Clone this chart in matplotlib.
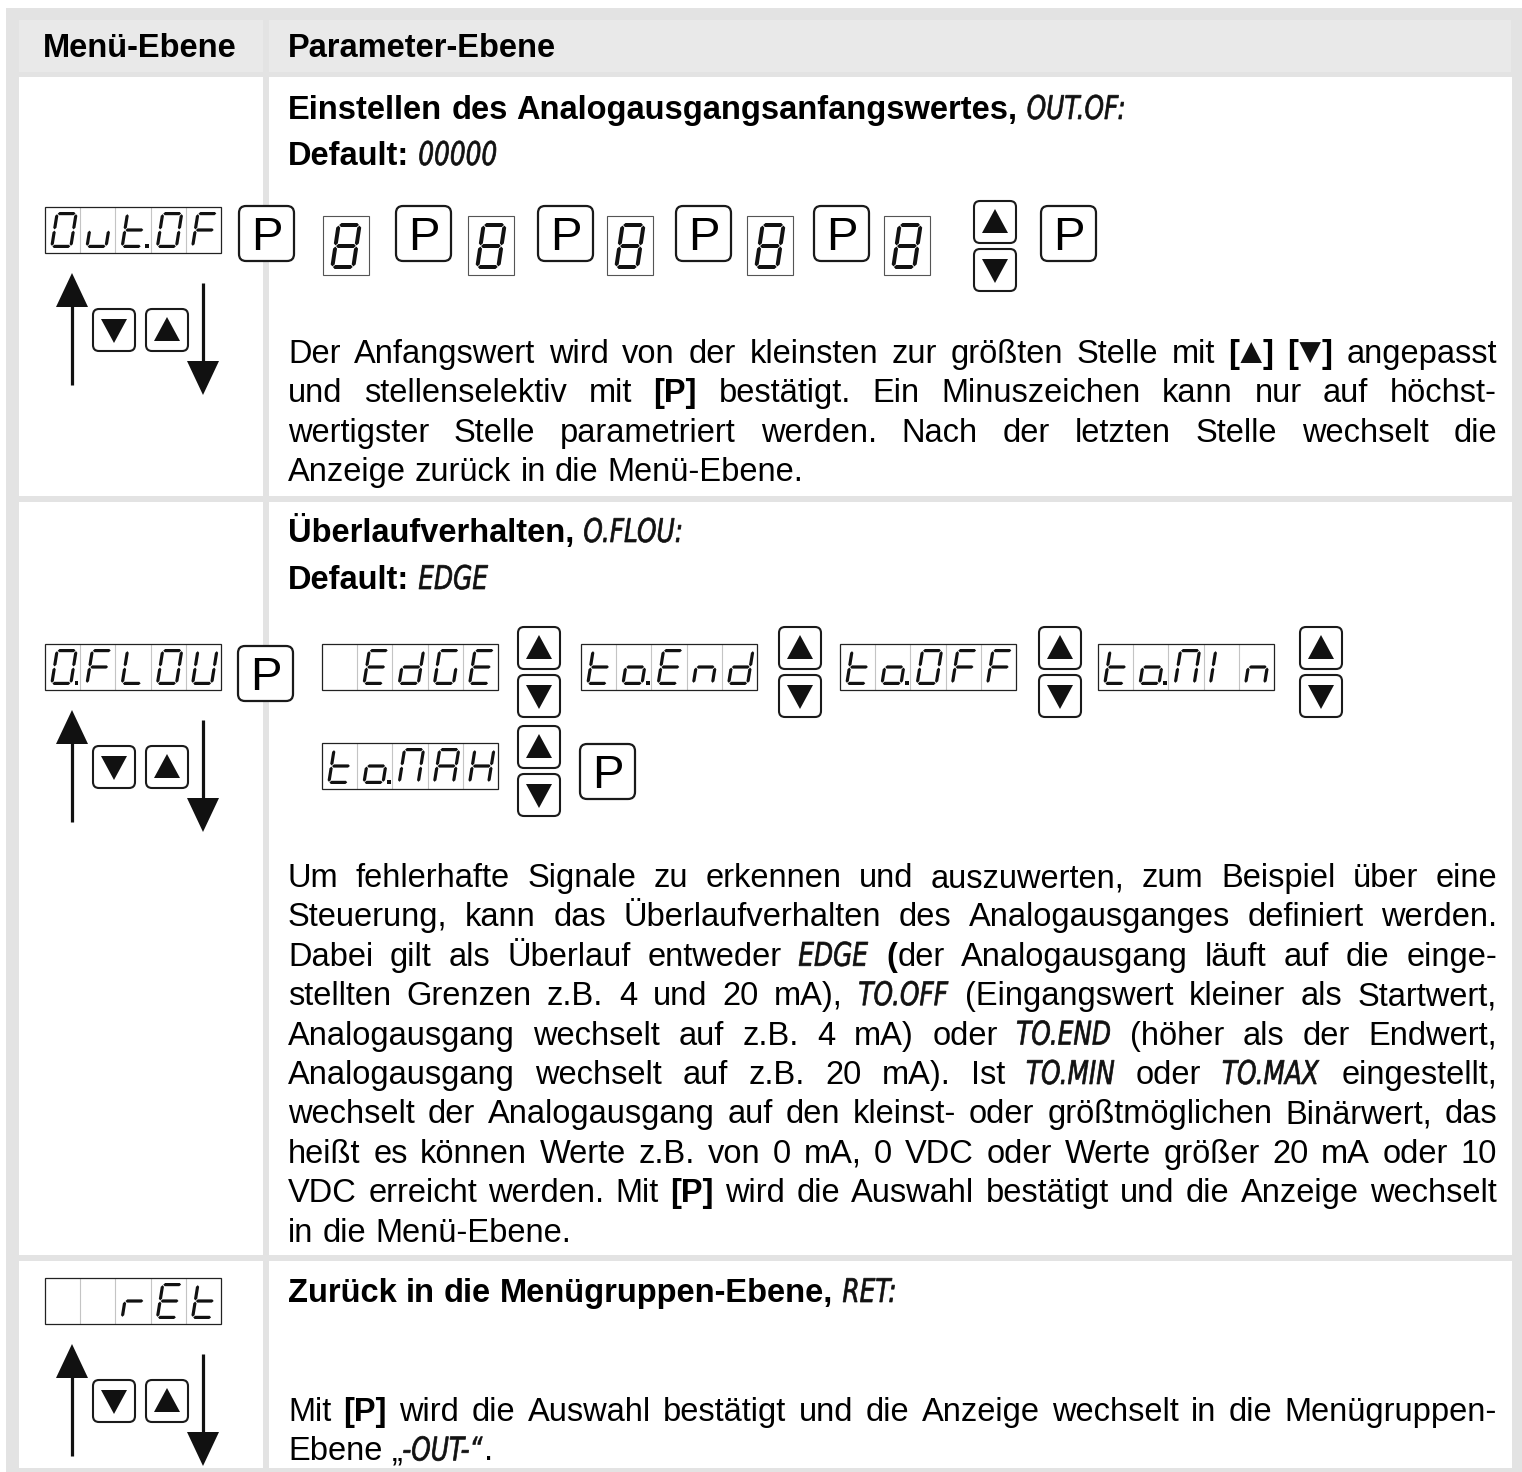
import matplotlib
matplotlib.use('Agg')
import matplotlib.pyplot as plt
from matplotlib.patches import Rectangle, FancyBboxPatch, Polygon, PathPatch
from matplotlib.textpath import TextPath
from matplotlib.font_manager import FontProperties
from matplotlib.transforms import Affine2D

# ---- content ----
HEADER = ["Menü-Ebene", "Parameter-Ebene"]

TITLE1 = "*Einstellen des Analogausgangsanfangswertes,* _OUT.OF:_"
DEFAULT1 = "*Default:* _00000_"
PAR1 = [
    "Der Anfangswert wird von der kleinsten zur größten Stelle mit *[▲]* *[▼]* angepasst",
    "und stellenselektiv mit *[P]* bestätigt. Ein Minuszeichen kann nur auf höchst-",
    "wertigster Stelle parametriert werden. Nach der letzten Stelle wechselt die",
    "Anzeige zurück in die Menü-Ebene.",
]

TITLE2 = "*Überlaufverhalten,* _O.FLOU:_"
DEFAULT2 = "*Default:* _EDGE_"
PAR2 = [
    "Um fehlerhafte Signale zu erkennen und auszuwerten, zum Beispiel über eine",
    "Steuerung, kann das Überlaufverhalten des Analogausganges definiert werden.",
    "Dabei gilt als Überlauf entweder _EDGE_ *(*der Analogausgang läuft auf die einge-",
    "stellten Grenzen z.B. 4 und 20 mA), _TO.OFF_ (Eingangswert kleiner als Startwert,",
    "Analogausgang wechselt auf z.B. 4 mA) oder _TO.END_ (höher als der Endwert,",
    "Analogausgang wechselt auf z.B. 20 mA). Ist _TO.MIN_ oder _TO.MAX_ eingestellt,",
    "wechselt der Analogausgang auf den kleinst- oder größtmöglichen Binärwert, das",
    "heißt es können Werte z.B. von 0 mA, 0 VDC oder Werte größer 20 mA oder 10",
    "VDC erreicht werden. Mit *[P]* wird die Auswahl bestätigt und die Anzeige wechselt",
    "in die Menü-Ebene.",
]

TITLE3 = "*Zurück in die Menügruppen-Ebene,* _RET:_"
PAR3 = [
    "Mit *[P]* wird die Auswahl bestätigt und die Anzeige wechselt in die Menügruppen-",
    "Ebene „_-OUT-“_.",
]

MENU_DISPLAYS = ["Out.OF", "O.FLOU", "  rEt"]
DIGIT_STEPS = ["8", "8", "8", "8", "8"]
OFLOW_CHOICES = [" EdGE", "to.End", "to.OFF", "to.MIn", "to.MAH"]

# ---- layout (pixels) ----
W, H = 1522, 1472
FS = 23.5
EM = FS * 100 / 72
X0, X1 = 288, 1497
LINE = 39.4
ROW_TOPS = [207, 644, 1278]          # menu display tops
DIGIT_X = [323, 468, 607, 747, 884]
P1_X = [239, 396, 538, 676, 814, 1041]
CHOICE_XY = [(322, 644), (581, 644), (840, 644), (1098, 644), (322, 743)]
UD2_XY = [(518, 627), (779, 627), (1039, 627), (1300, 627), (518, 726)]

SANS = ['Liberation Sans', 'DejaVu Sans']
FONTS = {
    'n': dict(family=SANS, fontsize=FS),
    'b': dict(family=SANS, fontsize=FS, fontweight='bold'),
}
SEG_PROP = FontProperties(family='DejaVu Sans', style='oblique')
SEG_SX = 0.76
SPACE = EM * 0.278
INK = '#111111'

fig = plt.figure(figsize=(W / 100, H / 100), dpi=100)
ax = fig.add_axes([0, 0, 1, 1])
ax.set_xlim(0, W)
ax.set_ylim(H, 0)
ax.axis('off')
renderer = fig.canvas.get_renderer()


def rect(x, y, w, h, fc, ec='none', lw=0, z=1):
    ax.add_patch(Rectangle((x, y), w, h, fc=fc, ec=ec, lw=lw, zorder=z))


# table background
rect(6, 8, W - 6, H - 8, '#e3e3e3')
rect(19, 20, 244, 52, '#e9e9e9')
rect(269, 20, 1242, 52, '#e9e9e9')
for top, bot in [(77, 496), (502, 1255), (1261, 1468)]:
    rect(19, top, 244, bot - top, 'white')
    rect(269, top, 1243, bot - top, 'white')

ax.text(43, 57, HEADER[0], va='baseline', **FONTS['b'])
ax.text(288, 57, HEADER[1], va='baseline', **FONTS['b'])


# ---- running text ----
def parse(line):
    words, cur, buf, style = [], [], '', 'n'

    def flush():
        nonlocal buf
        if not buf:
            return
        part = ''
        for ch in buf:
            if ch in '▲▼':
                if part:
                    cur.append((part, style))
                cur.append((ch, 'T'))
                part = ''
            else:
                part += ch
        if part:
            cur.append((part, style))
        buf = ''

    for ch in line:
        if ch in '*_':
            flush()
            new = 'b' if ch == '*' else 's'
            style = 'n' if style == new else new
        elif ch == ' ':
            flush()
            if cur:
                words.append(cur)
                cur = []
        else:
            buf += ch
    flush()
    if cur:
        words.append(cur)
    return words


def seg_path(txt):
    return TextPath((0, 0), txt, size=EM, prop=SEG_PROP)


def piece_width(txt, style):
    if style == 's':
        return seg_path(txt).get_extents().x1 * SEG_SX + 1.5
    if style == 'T':
        return EM * 0.72
    t = ax.text(0, 0, txt, **FONTS[style])
    w = t.get_window_extent(renderer).width
    t.remove()
    return w


def put_piece(x, y, txt, style):
    if style == 's':
        path = Affine2D().scale(SEG_SX, -1).translate(x, y).transform_path(seg_path(txt))
        ax.add_patch(PathPatch(path, fc=INK, ec=INK, lw=0.5, zorder=5))
    elif style == 'T':
        cx, half, top = x + EM * 0.36, EM * 0.33, y - EM * 0.64
        if txt == '▲':
            pts = [(cx - half, y), (cx + half, y), (cx, top)]
        else:
            pts = [(cx - half, top), (cx + half, top), (cx, y)]
        ax.add_patch(Polygon(pts, closed=True, fc=INK, ec='none', zorder=5))
    else:
        ax.text(x, y, txt, va='baseline', ha='left', zorder=5, **FONTS[style])


def draw_line(line, y, justify=False):
    words = parse(line)
    widths = [[piece_width(p, s) for p, s in w] for w in words]
    total = sum(sum(ws) for ws in widths)
    gap = (X1 - X0 - total) / (len(words) - 1) if justify and len(words) > 1 else SPACE
    x = X0
    for w, ws in zip(words, widths):
        for (p, s), pw in zip(w, ws):
            put_piece(x, y, p, s)
            x += pw
        x += gap


def draw_par(lines, y0):
    for i, line in enumerate(lines):
        draw_line(line, y0 + i * LINE, justify=(i < len(lines) - 1))


draw_line(TITLE1, 119)
draw_line(DEFAULT1, 165)
draw_par(PAR1, 363)
draw_line(TITLE2, 542)
draw_line(DEFAULT2, 589)
draw_par(PAR2, 887)
draw_line(TITLE3, 1302)
draw_par(PAR3, 1421)

# ---- seven segment displays ----
SEGS = {
    '0': 'abcdef', 'O': 'abcdef', '8': 'abcdefg', 'u': 'cde', 't': 'defg',
    'F': 'aefg', 'L': 'def', 'U': 'bcdef', 'E': 'adefg', 'd': 'bcdeg',
    'G': 'acdef', 'n': 'ceg', 'o': 'cdeg', 'r': 'eg', 'A': 'abcefg',
    'H': 'bcefg', 'M': 'abcef', 'I': 'ef', ' ': '',
}


def seg_polys(w, h, t, g):
    def hseg(yy):
        xa, xb = t / 2, w - t / 2
        return [(xa + g, yy), (xa + g + t / 2, yy + t / 2), (xb - g - t / 2, yy + t / 2),
                (xb - g, yy), (xb - g - t / 2, yy - t / 2), (xa + g + t / 2, yy - t / 2)]

    def vseg(xx, ya, yb):
        return [(xx, ya + g), (xx + t / 2, ya + g + t / 2), (xx + t / 2, yb - g - t / 2),
                (xx, yb - g), (xx - t / 2, yb - g - t / 2), (xx - t / 2, ya + g + t / 2)]

    top, mid, bot = h - t / 2, h / 2, t / 2
    return {'a': hseg(top), 'g': hseg(mid), 'd': hseg(bot),
            'f': vseg(t / 2, mid, top), 'e': vseg(t / 2, bot, mid),
            'b': vseg(w - t / 2, mid, top), 'c': vseg(w - t / 2, bot, mid)}


def draw_digit(ch, x0, ybase, w, h, t, slant=0.16, dot=False):
    polys = seg_polys(w, h, t, 0.6)
    for s in SEGS[ch]:
        pts = [(x0 + px + slant * py, ybase - py) for px, py in polys[s]]
        ax.add_patch(Polygon(pts, closed=True, fc=INK, ec='none', zorder=4))
    if dot:
        rect(x0 + w + 2.5, ybase - t - 0.5, t + 0.5, t + 0.5, INK, z=4)


def split_cells(text):
    cells = []
    for ch in text:
        if ch == '.' and cells:
            cells[-1] = (cells[-1][0], True)
        else:
            cells.append((ch, False))
    return cells


def draw_display(text, x, y, w=176, h=46):
    cells = split_cells(text)
    cw = w / len(cells)
    rect(x, y, w, h, 'white', z=2)
    for i in range(1, len(cells)):
        ax.plot([x + i * cw] * 2, [y + 1, y + h - 1], color='#c4c4c4', lw=0.8, zorder=3)
    ax.add_patch(Rectangle((x, y), w, h, fc='none', ec='#222222', lw=0.9, zorder=3))
    for i, (ch, dot) in enumerate(cells):
        draw_digit(ch, x + i * cw + 5, y + h - 5, cw - 13, h - 10, 3.2, dot=dot)


def draw_single(ch, x, y, w=46, h=59):
    rect(x, y, w, h, 'white', z=2)
    ax.add_patch(Rectangle((x, y), w, h, fc='none', ec='#555555', lw=0.8, zorder=3))
    draw_digit(ch, x + 7, y + h - 6, 25, h - 13, 4.0, slant=0.15)


def p_button(x, y, w=55, h=55):
    ax.add_patch(FancyBboxPatch((x, y), w, h, boxstyle='round,pad=0,rounding_size=7',
                                fc='white', ec='#1a1a1a', lw=1.6, zorder=3))
    ax.text(x + w / 2, y + h / 2 + 16.5, 'P', ha='center', va='baseline', zorder=5,
            family=SANS, fontsize=34)


def tri_button(x, y, up, w=42, h=42):
    ax.add_patch(FancyBboxPatch((x, y), w, h, boxstyle='round,pad=0,rounding_size=6',
                                fc='white', ec='#1a1a1a', lw=1.5, zorder=3))
    cx, cy = x + w / 2, y + h / 2
    if up:
        pts = [(cx - 13, cy + 11), (cx + 13, cy + 11), (cx, cy - 13)]
    else:
        pts = [(cx - 13, cy - 11), (cx + 13, cy - 11), (cx, cy + 13)]
    ax.add_patch(Polygon(pts, closed=True, fc=INK, ec='none', zorder=4))


def up_down(x, y):
    tri_button(x, y, True)
    tri_button(x, y + 48, False)


def arrow(x, y_start, y_tip):
    d = 1 if y_tip > y_start else -1
    hl, hw = 34, 16
    ax.plot([x, x], [y_start, y_tip - d * hl * 0.8], color=INK, lw=2.3,
            solid_capstyle='butt', zorder=4)
    ax.add_patch(Polygon([(x - hw, y_tip - d * hl), (x + hw, y_tip - d * hl), (x, y_tip)],
                         closed=True, fc=INK, ec='none', zorder=4))


# menu column
for text, top in zip(MENU_DISPLAYS, ROW_TOPS):
    draw_display(text, 45, top)
    arrow(72, top + 178, top + 66)
    arrow(203, top + 76, top + 188)
    tri_button(93, top + 102, False)
    tri_button(146, top + 102, True)

# row 1: digit by digit entry
for x in P1_X:
    p_button(x, 206)
for ch, x in zip(DIGIT_STEPS, DIGIT_X):
    draw_single(ch, x, 216)
up_down(974, 201)

# row 2: overflow choices
p_button(238, 646)
for text, (x, y) in zip(OFLOW_CHOICES, CHOICE_XY):
    draw_display(text, x, y)
for x, y in UD2_XY:
    up_down(x, y)
p_button(580, 744)

fig.savefig('out.png', dpi=100)
